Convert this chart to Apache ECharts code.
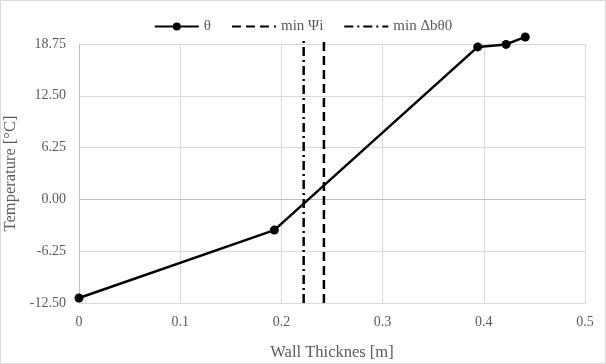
<!DOCTYPE html>
<html><head><meta charset="utf-8">
<script src="https://cdn.jsdelivr.net/npm/echarts@6/dist/echarts.min.js"></script>
<style>html,body{margin:0;padding:0;background:#fff}#c{width:606px;height:364px}</style>
</head><body><div id="c"></div>
<script>
const thickness = [0, 0.193, 0.394, 0.422, 0.441];
const theta = [-11.9, -3.7, 18.4, 18.7, 19.6];
const minPsiX = 0.242;
const minDbX = 0.222;
const vLineSpan = [-12.5, 19.4];
const yRange = [-12.5, 18.75];
const font = 'Liberation Serif';
const chart = echarts.init(document.getElementById('c'), null, {renderer:'canvas'});
chart.setOption({
  animation:false,
  graphic:[{type:'rect',shape:{x:0.5,y:0.5,width:605,height:363},style:{fill:'none',stroke:'#d9d9d9',lineWidth:1},silent:true}],
  legend:{top:14,left:'center',itemWidth:44,itemHeight:10,itemGap:20,
    textStyle:{fontFamily:font,fontSize:15,color:'#595959'},
    data:['θ',{name:'min Ψi',itemStyle:{opacity:0}},{name:'min Δbθ0',itemStyle:{opacity:0}}]},
  grid:{left:79,right:21,top:44,bottom:61,outerBoundsMode:'none'},
  xAxis:{type:'value',min:0,max:0.5,interval:0.1,
    name:'Wall Thicknes [m]',nameLocation:'middle',nameGap:41,
    nameTextStyle:{fontFamily:font,fontSize:16.5,color:'#595959'},
    axisLine:{show:true,lineStyle:{color:'#bfbfbf'}},axisTick:{show:false},
    axisLabel:{fontFamily:font,fontSize:14,color:'#595959',margin:12,formatter:v=>String(v)},
    splitLine:{show:true,lineStyle:{color:'#d9d9d9'}}},
  yAxis:{type:'value',min:yRange[0],max:yRange[1],interval:6.25,
    name:'Temperature [°C]',nameLocation:'middle',nameGap:57,
    nameTextStyle:{fontFamily:font,fontSize:16.5,color:'#595959'},
    axisLine:{show:true,lineStyle:{color:'#bfbfbf'}},axisTick:{show:false},
    axisLabel:{fontFamily:font,fontSize:14,color:'#595959',margin:13,
      formatter:v=>v.toFixed(2)},
    splitLine:{show:true,lineStyle:{color:'#d9d9d9'}}},
  series:[
    {name:'θ',type:'line',clip:false,data:thickness.map((x,i)=>[x,theta[i]]),
     symbol:'circle',symbolSize:9,lineStyle:{color:'#000',width:2.5},itemStyle:{color:'#000'}},
    {name:'min Ψi',type:'line',clip:false,data:[[minPsiX,vLineSpan[0]],[minPsiX,vLineSpan[1]]],
     symbol:'none',lineStyle:{color:'#000',width:2.5,type:[9,5]},itemStyle:{color:'#000'}},
    {name:'min Δbθ0',type:'line',clip:false,data:[[minDbX,vLineSpan[0]],[minDbX,vLineSpan[1]]],
     symbol:'none',lineStyle:{color:'#000',width:2.5,type:[9,4,2,4]},itemStyle:{color:'#000'}}
  ]
});
</script></body></html>
